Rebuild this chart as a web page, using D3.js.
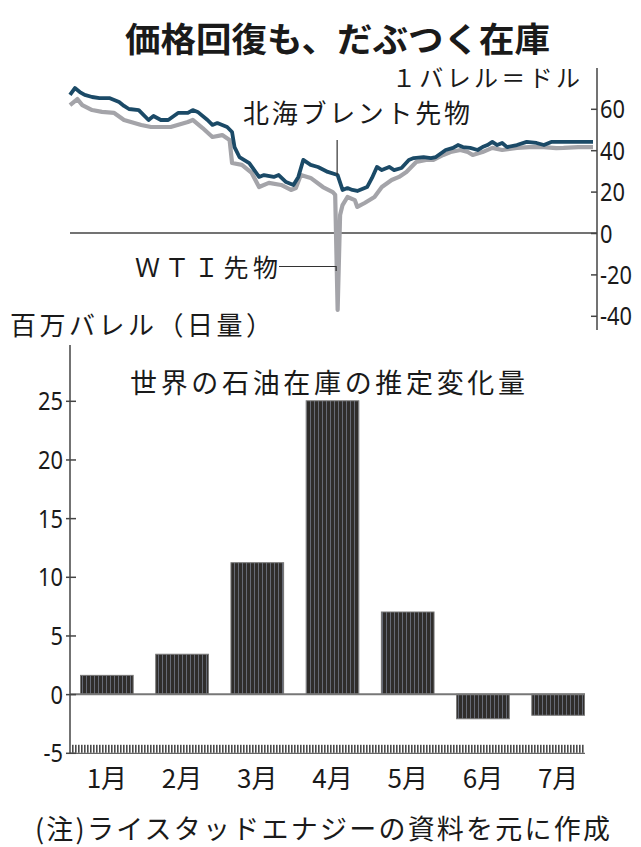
<!DOCTYPE html>
<html><head><meta charset="utf-8">
<script src="https://cdn.jsdelivr.net/npm/d3@7"></script>
<style>
body{margin:0;background:#fff;}
svg{display:block;}
.jp{font-family:"Noto Sans CJK JP","Noto Sans",sans-serif;fill:#1a1a1a;}
.num{font-family:"Noto Sans","Noto Sans CJK JP",sans-serif;fill:#1a1a1a;}
</style></head>
<body>
<script>
// ---- data ----
const brentDates = ["01-02","01-04","01-06","01-08","01-11","01-14","01-18","01-22","01-24","01-26","01-30","02-03","02-05","02-08","02-11","02-15","02-19","02-21","02-23","02-27","02-29","03-02","03-06","03-08","03-09","03-11","03-15","03-19","03-21","03-25","03-27","03-30","04-02","04-04","04-06","04-09","04-12","04-16","04-20","04-22","04-24","04-26","04-28","05-02","05-04","05-06","05-08","05-11","05-13","05-16","05-19","05-21","05-25","05-28","05-30","06-03","06-06","06-08","06-10","06-13","06-16","06-18","06-20","06-22","06-24","06-26","06-28","07-02","07-06","07-10","07-13","07-16","07-21","07-27","08-02"];
const brentValues = [66.7,70.0,68.1,66.7,65.7,65.2,65.2,63.3,61.4,59.9,59.4,54.6,56.5,54.6,54.6,58.0,58.0,59.4,58.5,54.6,52.2,53.1,51.2,48.8,41.5,36.7,33.8,27.1,28.0,27.1,28.0,24.6,23.2,27.1,35.3,32.9,31.9,29.5,28.0,20.8,21.7,20.8,20.3,22.2,26.6,31.9,30.4,31.9,30.4,31.4,35.3,36.2,36.7,36.2,36.7,40.1,41.1,42.5,41.5,41.1,40.1,41.5,42.5,44.0,42.5,43.5,41.5,42.5,44.0,43.5,42.5,44.0,44.0,44.0,44.0];
const wtiDates = ["01-02","01-05","01-07","01-11","01-15","01-20","01-24","01-31","02-04","02-12","02-19","02-21","02-25","02-29","03-04","03-07","03-08","03-12","03-16","03-19","03-23","03-28","04-01","04-03","04-05","04-09","04-14","04-18","04-19","04-20","04-21","04-22","04-24","04-27","04-28","05-01","05-05","05-08","05-12","05-15","05-18","05-22","05-26","05-29","06-02","06-05","06-09","06-12","06-14","06-18","06-22","06-26","07-02","07-07","07-13","07-18","07-21","07-27","08-02"];
const wtiValues = [61.8,64.7,61.8,59.4,58.5,58.0,54.6,52.2,51.2,51.2,53.6,54.6,50.7,46.4,47.3,44.9,33.8,32.9,29.0,22.2,24.2,23.2,20.8,21.7,28.0,26.6,22.2,19.8,18.4,-37.2,8.7,13.5,17.4,15.9,12.6,14.5,17.4,22.2,25.6,27.1,29.5,34.3,35.3,35.3,37.7,39.1,40.1,39.1,37.7,39.1,41.1,40.1,41.1,41.5,41.5,41.0,41.1,41.5,41.5];
const priceTicks = [60,40,20,0,-20,-40];

const months = ["1月","2月","3月","4月","5月","6月","7月"];
const stockChange = [1.6,3.4,11.2,25.0,7.0,-2.1,-1.8];
const stockTicks = [25,20,15,10,5,0,-5];

const W = 641, H = 847;
const svg = d3.select("body").append("svg").attr("width",W).attr("height",H);

// narrow numerals like the reference
const numFmt = d => String(d);
const numLen = d => { const s = String(d); let w = 0; for (const c of s) w += (c === "-") ? 7 : 12.5; return w; };

// patterns
const defs = svg.append("defs");
const pat = defs.append("pattern").attr("id","stripe").attr("patternUnits","userSpaceOnUse")
  .attr("width",4).attr("height",10);
pat.append("rect").attr("width",4).attr("height",10).attr("fill","#2f2d2b");
pat.append("rect").attr("x",2).attr("width",1).attr("height",10).attr("fill","#666a75");
const pat2 = defs.append("pattern").attr("id","hatch").attr("patternUnits","userSpaceOnUse")
  .attr("width",3).attr("height",10);
pat2.append("rect").attr("width",3).attr("height",10).attr("fill","#fff");
pat2.append("rect").attr("width",1.6).attr("height",10).attr("fill","#4a4a4a");

// title
svg.append("text").attr("class","jp").attr("x",125).attr("y",52)
  .attr("font-size",34).attr("font-weight","bold")
  .attr("textLength",425).attr("lengthAdjust","spacingAndGlyphs")
  .text("価格回復も、だぶつく在庫");

// ---- top price chart ----
const parse = d3.timeParse("%Y-%m-%d");
const x = d3.scaleTime().domain([parse("2020-01-02"),parse("2020-08-02")]).range([70,593]);
const y = d3.scaleLinear().domain([-40,60]).range([315.8,108.8]);

const brent = brentDates.map((d,i)=>({date:parse("2020-"+d),v:brentValues[i]}));
const wti = wtiDates.map((d,i)=>({date:parse("2020-"+d),v:wtiValues[i]}));
const line = d3.line().x(d=>x(d.date)).y(d=>y(d.v));

// zero line
svg.append("line").attr("x1",70).attr("x2",597).attr("y1",y(0)).attr("y2",y(0))
  .attr("stroke","#444").attr("stroke-width",1.5);

// right axis
const yAxis = d3.axisRight(y).tickValues(priceTicks).tickSize(0).tickPadding(4).tickFormat(numFmt);
const ga = svg.append("g").attr("transform","translate(597,0)").call(yAxis);
ga.select(".domain").remove();
ga.append("line").attr("x1",0).attr("x2",0).attr("y1",68).attr("y2",330).attr("stroke","#444").attr("stroke-width",1.5);
ga.selectAll(".tick").append("line").attr("x1",-6).attr("x2",0).attr("stroke","#444").attr("stroke-width",1.5);
ga.selectAll(".tick text").attr("class","num").attr("font-size",25).attr("fill","#1a1a1a")
  .attr("x",3).attr("dy","0.36em")
  .attr("textLength",d=>numLen(d)).attr("lengthAdjust","spacingAndGlyphs");

svg.append("path").datum(wti).attr("d",line).attr("fill","none")
  .attr("stroke","#a4a4a9").attr("stroke-width",4.2).attr("stroke-linejoin","round");
svg.append("path").datum(brent).attr("d",line).attr("fill","none")
  .attr("stroke","#1b4a67").attr("stroke-width",3.8).attr("stroke-linejoin","round");

// labels top
svg.append("text").attr("class","jp").attr("x",392).attr("y",87).attr("font-size",24)
  .attr("textLength",188).attr("lengthAdjust","spacing").text("１バレル＝ドル");
svg.append("text").attr("class","jp").attr("x",243).attr("y",123).attr("font-size",26)
  .attr("textLength",227).attr("lengthAdjust","spacing").text("北海ブレント先物");
svg.append("text").attr("class","jp").attr("x",135).attr("y",277).attr("font-size",25)
  .attr("textLength",143).attr("lengthAdjust","spacing").text("ＷＴＩ先物");
// leaders
const apr20 = parse("2020-04-20");
svg.append("line").attr("x1",x(apr20)-0.5).attr("x2",x(apr20)-0.5).attr("y1",140).attr("y2",y(28))
  .attr("stroke","#333").attr("stroke-width",1.2);
svg.append("path").attr("d",`M279,${266.5}H${x(apr20)-1.5}V271`).attr("fill","none")
  .attr("stroke","#333").attr("stroke-width",1.2);

svg.append("text").attr("class","jp").attr("x",10).attr("y",335).attr("font-size",26)
  .attr("textLength",262).attr("lengthAdjust","spacing").text("百万バレル（日量）");

// ---- bar chart ----
const xb = d3.scaleBand().domain(months).range([70,595]).paddingInner(0.3).paddingOuter(0.14);
const yb = d3.scaleLinear().domain([-5,25]).range([752.8,400.8]);

svg.append("text").attr("class","jp").attr("x",130).attr("y",393).attr("font-size",27)
  .attr("textLength",395).attr("lengthAdjust","spacing").text("世界の石油在庫の推定変化量");

// hatched bottom strip at -5
svg.append("rect").attr("x",72).attr("y",yb(-5)-8).attr("width",513).attr("height",8)
  .attr("fill","url(#hatch)");
svg.append("line").attr("x1",70).attr("x2",585).attr("y1",yb(-5)+0.5).attr("y2",yb(-5)+0.5)
  .attr("stroke","#666").attr("stroke-width",1.2);

svg.selectAll(".bar").data(stockChange).enter().append("rect")
  .attr("x",(d,i)=>xb(months[i]))
  .attr("width",xb.bandwidth())
  .attr("y",d=>yb(Math.max(0,d)))
  .attr("height",d=>Math.abs(yb(d)-yb(0)))
  .attr("fill","url(#stripe)").attr("stroke","#777").attr("stroke-width",1);

// zero line
svg.append("line").attr("x1",70).attr("x2",585).attr("y1",yb(0)).attr("y2",yb(0))
  .attr("stroke","#777").attr("stroke-width",2);

// left axis
const yAxisB = d3.axisLeft(yb).tickValues(stockTicks).tickSize(0).tickPadding(7).tickFormat(numFmt);
const gb = svg.append("g").attr("transform","translate(70,0)").call(yAxisB);
gb.select(".domain").remove();
gb.append("line").attr("x1",0).attr("x2",0).attr("y1",345).attr("y2",yb(-5)+1).attr("stroke","#444").attr("stroke-width",1.5);
gb.selectAll(".tick").append("line").attr("x1",-4).attr("x2",6).attr("stroke","#444").attr("stroke-width",1.5);
gb.selectAll(".tick text").attr("class","num").attr("font-size",25).attr("fill","#1a1a1a").attr("dy","0.36em")
  .attr("textLength",d=>numLen(d)).attr("lengthAdjust","spacingAndGlyphs");

// x axis labels
const xAxisB = d3.axisBottom(xb).tickSize(0).tickPadding(0);
const gx = svg.append("g").attr("transform","translate(0,767)").call(xAxisB);
gx.select(".domain").remove();
gx.selectAll(".tick text").attr("class","jp").attr("font-size",26).attr("fill","#1a1a1a").attr("dy","0.8em");

// footnote
svg.append("text").attr("class","jp").attr("x",35).attr("y",839).attr("font-size",27)
  .attr("textLength",575).attr("lengthAdjust","spacing").text("(注)ライスタッドエナジーの資料を元に作成");
</script>
</body></html>
